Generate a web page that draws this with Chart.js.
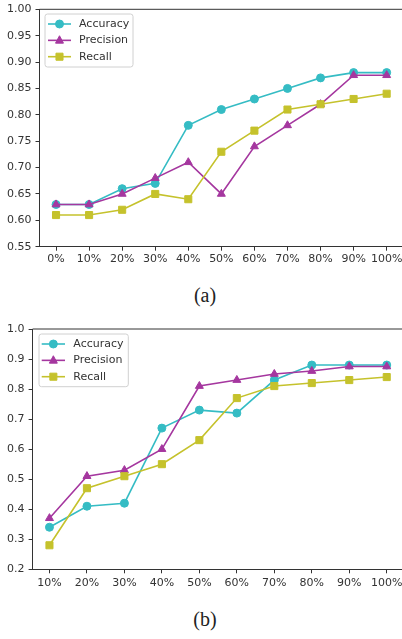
<!DOCTYPE html>
<html><head><meta charset="utf-8">
<script src="https://cdn.jsdelivr.net/npm/chart.js@4"></script>
<style>
html,body{margin:0;padding:0;background:#fff;overflow:hidden;width:402px;height:639px;}
.wrap{position:absolute;left:0;}
canvas{display:block;}
.cap{position:absolute;left:0;width:410px;text-align:center;font-family:"Liberation Serif","Times New Roman",serif;font-size:20px;line-height:20px;color:#222;}
</style></head><body>
<div class="wrap" style="top:0;width:440px;height:275px"><canvas id="ca" width="440" height="275"></canvas></div>
<div class="cap" style="top:285px">(a)</div>
<div class="wrap" style="top:300px;width:440px;height:300px"><canvas id="cb" width="440" height="300"></canvas></div>
<div class="cap" style="top:609px">(b)</div>
<script>
// ---- data (a) ----
const labelsA = ['0%','10%','20%','30%','40%','50%','60%','70%','80%','90%','100%'];
const accuracyA  = [0.63,0.63,0.66,0.67,0.78,0.81,0.83,0.85,0.87,0.88,0.88];
const precisionA = [0.63,0.63,0.65,0.68,0.71,0.65,0.74,0.78,0.82,0.875,0.875];
const recallA    = [0.61,0.61,0.62,0.65,0.64,0.73,0.77,0.81,0.82,0.83,0.84];
const yTicksA = [0.55,0.60,0.65,0.70,0.75,0.80,0.85,0.90,0.95,1.00];
// ---- data (b) ----
const labelsB = ['10%','20%','30%','40%','50%','60%','70%','80%','90%','100%'];
const accuracyB  = [0.34,0.41,0.42,0.67,0.73,0.72,0.83,0.88,0.88,0.88];
const precisionB = [0.37,0.51,0.53,0.60,0.81,0.83,0.85,0.86,0.875,0.875];
const recallB    = [0.28,0.47,0.51,0.55,0.63,0.77,0.81,0.82,0.83,0.84];
const yTicksB = [0.2,0.3,0.4,0.5,0.6,0.7,0.8,0.9,1.0];
const seriesNames = ['Accuracy','Precision','Recall'];

const COLORS = ['#35bcc4','#a5379f','#c5c22c'];
const STYLES = ['circle','triangle','rect'];
const RADII = [4,4.6,5];
const FONT = {family:'"DejaVu Sans", sans-serif', size:11};
const TXT = '#333';

function drawMarker(ctx, style, r, x, y, color){
  ctx.fillStyle = color; ctx.strokeStyle = color; ctx.lineWidth = 1;
  ctx.beginPath();
  if(style==='circle'){ ctx.arc(x,y,r,0,Math.PI*2); }
  else if(style==='triangle'){ ctx.moveTo(x,y-r); ctx.lineTo(x+r*0.866*1.0,y+r*0.5*1.0+0.5); ctx.lineTo(x-r*0.866,y+r*0.5+0.5); ctx.closePath(); }
  else { const s=r*Math.SQRT1_2; ctx.rect(x-s,y-s,2*s,2*s); }
  ctx.fill(); ctx.stroke();
}

const boxPlugin = {
  id:'boxLegend',
  afterDatasetsDraw(chart, args, o){
    const ctx = chart.ctx, a = chart.chartArea;
    ctx.save();
    // top & right spines
    ctx.strokeStyle = TXT; ctx.lineWidth = 1;
    ctx.beginPath();
    ctx.moveTo(a.left, a.top); ctx.lineTo(a.right, a.top); ctx.lineTo(a.right, a.bottom);
    ctx.stroke();
    // legend
    const x0 = a.left + o.dx, y0 = a.top + o.dy;
    ctx.beginPath();
    if(ctx.roundRect) ctx.roundRect(x0,y0,o.w,o.h,2.5); else ctx.rect(x0,y0,o.w,o.h);
    ctx.fillStyle = 'rgba(255,255,255,0.85)'; ctx.fill();
    ctx.strokeStyle = '#d0d0d0'; ctx.lineWidth = 1; ctx.stroke();
    chart.data.datasets.forEach((ds,i)=>{
      const y = y0 + o.firstY + i*o.rowH;
      ctx.strokeStyle = ds.borderColor; ctx.lineWidth = ds.borderWidth;
      ctx.beginPath(); ctx.moveTo(x0+o.l0,y); ctx.lineTo(x0+o.l1,y); ctx.stroke();
      drawMarker(ctx, ds.pointStyle, ds.pointRadius, x0+(o.l0+o.l1)/2, y, ds.borderColor);
      ctx.fillStyle = TXT; ctx.font = '11px "DejaVu Sans", sans-serif';
      ctx.textBaseline = 'middle'; ctx.textAlign = 'left';
      ctx.fillText(ds.label, x0+o.tx, y);
    });
    ctx.restore();
  }
};

function makeChart(id, labels, series, yTicks, dec, cfg){
  const datasets = series.map((vals,i)=>({
    label: seriesNames[i],
    data: vals.map((v,k)=>({x:k,y:v})),
    borderColor: COLORS[i], backgroundColor: COLORS[i],
    pointBackgroundColor: COLORS[i], pointBorderColor: COLORS[i],
    borderWidth: 1.6, pointStyle: STYLES[i], pointRadius: RADII[i], pointBorderWidth:1,
    order: 3-i, tension:0, clip:8
  }));
  return new Chart(document.getElementById(id), {
    type:'line',
    data:{datasets},
    plugins:[boxPlugin],
    options:{
      responsive:false, animation:false, devicePixelRatio:1,
      layout:{padding:{top:cfg.top,left:0,right:cfg.right,bottom:0}},
      plugins:{legend:{display:false}, tooltip:{enabled:false}, boxLegend:cfg.legend},
      scales:{
        x:{type:'linear', min:cfg.xmin, max:cfg.xmax,
          afterBuildTicks:(ax)=>{ ax.ticks = labels.map((_,k)=>({value:k})); },
          afterFit:(ax)=>{ ax.height = cfg.xh; ax.paddingLeft=0; ax.paddingRight=0; },
          ticks:{callback:(v)=>labels[v], font:FONT, color:TXT, padding:cfg.xpad, maxRotation:0, autoSkip:false},
          grid:{drawOnChartArea:false, drawTicks:true, tickLength:4, color:TXT},
          border:{display:true, color:TXT, width:1}},
        y:{type:'linear', min:yTicks[0], max:yTicks[yTicks.length-1],
          afterBuildTicks:(ax)=>{ ax.ticks = yTicks.map(v=>({value:v})); },
          afterFit:(ax)=>{ ax.width = cfg.yw; ax.paddingTop=0; ax.paddingBottom=0; },
          ticks:{callback:(v)=>Number(v).toFixed(dec), font:FONT, color:TXT, padding:4},
          grid:{drawOnChartArea:false, drawTicks:true, tickLength:4, color:TXT},
          border:{display:true, color:TXT, width:1}}
      }
    }
  });
}

const legendCfg = {dx:5.5, dy:4.7, w:88, h:53, firstY:10, rowH:16.35, l0:3, l1:26, tx:34};
makeChart('ca', labelsA, [accuracyA,precisionA,recallA], yTicksA, 2,
  {top:9.3, right:36.8, xh:28.3, yw:39.5, xmin:-0.5, xmax:10.5, xpad:2, legend:legendCfg});
makeChart('cb', labelsB, [accuracyB,precisionB,recallB], yTicksB, 1,
  {top:29, right:36.4, xh:30.7, yw:32.6, xmin:-0.45, xmax:9.45, xpad:3.4,
   legend:{dx:6.4, dy:5, w:89.3, h:52.7, firstY:10, rowH:16.35, l0:2.7, l1:26, tx:34.3}});
</script>
</body></html>
